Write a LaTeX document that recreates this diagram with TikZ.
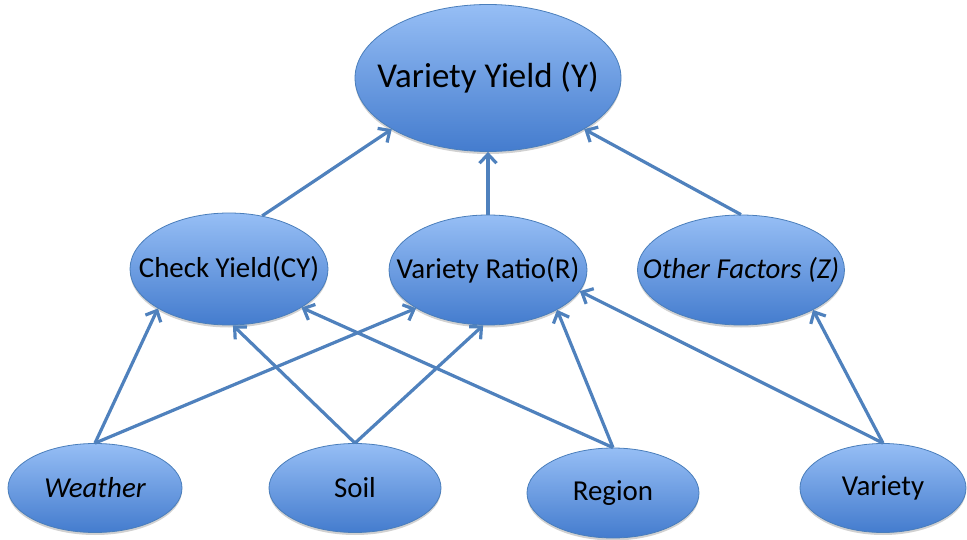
\documentclass[tikz,border=0pt]{standalone}
\usepackage{fontspec}
\setmainfont{Carlito}
\usetikzlibrary{arrows.meta,shadows,shapes.geometric}
\definecolor{edgeblue}{RGB}{79,129,189}
\definecolor{rimblue}{RGB}{74,126,187}
\definecolor{topblue}{RGB}{150,190,245}
\definecolor{botblue}{RGB}{68,124,206}
\begin{document}
\begin{tikzpicture}[x=1bp,y=-1bp,
  ell/.style={ellipse, draw=rimblue, line width=0.8bp, top color=topblue, bottom color=botblue,
    inner sep=0pt, drop shadow={shadow xshift=0bp, shadow yshift=-2.5bp, opacity=0.3, fill=black!60}},
  big/.style={font=\fontsize{35}{41}\selectfont},
  mid/.style={font=\fontsize{29}{34}\selectfont},
  arr/.style={draw=edgeblue, line width=3.2bp, -{Straight Barb[length=9bp,width=17bp]}}
]
\useasboundingbox (0,0) rectangle (967,540);
\node[ell, minimum width=266bp, minimum height=147bp, label={[big]center:Variety Yield (Y)}] (Y) at (488,78) {};
\node[ell, minimum width=198bp, minimum height=112bp, label={[mid]center:Check Yield(CY)}] (CY) at (229,269) {};
\node[ell, minimum width=198bp, minimum height=110bp, label={[mid]center:Variety Ratio(R)}] (R) at (488,270) {};
\node[ell, minimum width=207bp, minimum height=110bp, label={[mid]center:\itshape Other Factors (Z)}] (Z) at (741,270) {};
\node[ell, minimum width=174bp, minimum height=89bp, label={[mid]center:\itshape Weather}] (W) at (95,488) {};
\node[ell, minimum width=172bp, minimum height=89bp, label={[mid]center:Soil}] (S) at (355,488) {};
\node[ell, minimum width=172bp, minimum height=90bp, label={[mid]center:Region}] (G) at (613,493) {};
\node[ell, minimum width=166bp, minimum height=89bp, label={[mid]center:Variety}] (V) at (883,488) {};

\draw[arr] (CY.58) -- (Y.208.6);
\draw[arr] (R.90) -- (Y.270);
\draw[arr] (Z.90) -- (Y.332);
\draw[arr] (W.90) -- (CY.209);
\draw[arr] (W.90) -- (R.208.5);
\draw[arr] (S.90) -- (CY.274);
\draw[arr] (S.90) -- (R.265);
\draw[arr] (G.90) -- (CY.332.5);
\draw[arr] (G.90) -- (R.330);
\draw[arr] (V.90) -- (R.347);
\draw[arr] (V.90) -- (Z.331);
\end{tikzpicture}
\end{document}
